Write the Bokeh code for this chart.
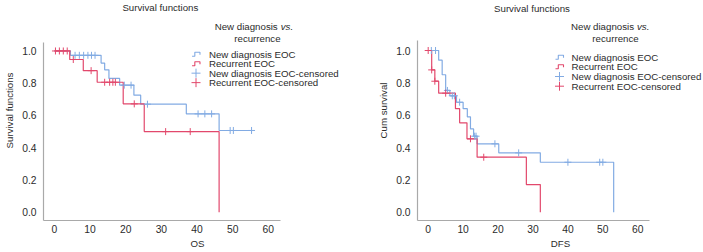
import math
from bokeh.plotting import figure
from bokeh.models import Range1d, FixedTicker, Label, LinearAxis
from bokeh.layouts import row
from bokeh.embed import file_html
from bokeh.resources import INLINE

# ---------------- data ----------------
x_ticks = [0, 10, 20, 30, 40, 50, 60]
y_ticks = [0.0, 0.2, 0.4, 0.6, 0.8, 1.0]
y_tick_labels = ["0.0", "0.2", "0.4", "0.6", "0.8", "1.0"]

series_names = ["New diagnosis EOC", "Recurrent EOC",
                "New diagnosis EOC-censored", "Recurrent EOC-censored"]

# OS panel
os_new_time = [0, 4.5, 13.1, 14.1, 15.3, 18.3, 22.3, 24.2, 37.0, 46.2, 55.3]
os_new_surv = [1.0, 0.973, 0.925, 0.883, 0.830, 0.788, 0.726, 0.670, 0.610, 0.507, 0.507]
os_new_cens_time = [5.8, 7.0, 8.2, 9.4, 10.4, 11.4, 19.6, 21.5, 26.1, 40.3, 42.2, 44.1, 49.3, 50.2, 55.3]
os_new_cens_surv = [0.973, 0.973, 0.973, 0.973, 0.973, 0.973, 0.788, 0.788, 0.670,
                    0.610, 0.610, 0.610, 0.507, 0.507, 0.507]

os_rec_time = [0, 4.3, 8.1, 12.0, 19.3, 25.2, 46.2]
os_rec_surv = [1.0, 0.947, 0.878, 0.806, 0.672, 0.500, 0.0]
os_rec_cens_time = [0.3, 1.4, 2.5, 3.6, 5.3, 10.3, 14.1, 15.5, 16.4, 17.1, 22.4, 31.2, 38.1]
os_rec_cens_surv = [1.0, 1.0, 1.0, 1.0, 0.947, 0.878, 0.806, 0.806, 0.806, 0.806,
                    0.672, 0.500, 0.500]

# DFS panel
dfs_new_time = [0, 3.0, 4.0, 5.0, 6.2, 8.1, 10.0, 11.2, 12.1, 13.0, 14.0, 20.2, 32.1, 53.1]
dfs_new_surv = [1.0, 0.94, 0.85, 0.753, 0.72, 0.68, 0.64, 0.59, 0.515, 0.47, 0.423, 0.367, 0.309, 0.0]
dfs_new_cens_time = [0.9, 2.1, 5.5, 6.9, 7.5, 9.0, 13.3, 13.7, 19.1, 25.9, 40.0, 49.1, 50.0]
dfs_new_cens_surv = [1.0, 1.0, 0.753, 0.72, 0.72, 0.68, 0.47, 0.47, 0.423, 0.367, 0.309, 0.309, 0.309]

dfs_rec_time = [0, 1.0, 1.9, 3.0, 7.8, 9.0, 11.1, 14.0, 28.1, 32.1]
dfs_rec_surv = [1.0, 0.88, 0.81, 0.736, 0.64, 0.553, 0.454, 0.34, 0.171, 0.0]
dfs_rec_cens_time = [0.0, 1.0, 1.9, 5.0, 12.1, 15.9]
dfs_rec_cens_surv = [1.0, 0.88, 0.81, 0.736, 0.454, 0.34]

# ---------------- style ----------------
BLUE = "#82ABE3"
RED = "#E2486C"
AXIS = "#A9A9A9"
TXT = "#2b2b2b"
FONT = "Liberation Sans"
FS = "9.7px"
H = 252
TOP = 0


def make_panel(fl, W, bl, bb, x0, kx, y0, ky, xb_px, yb_px, data, texts):
    frame_left = fl + bl
    frame_right = fl + W
    frame_bottom = TOP + H - bb

    def tx(px):
        return (px - x0) / kx

    def sy(py):
        return (y0 - py) / ky

    p = figure(width=W, height=H, output_backend="svg", toolbar_location=None,
               x_range=Range1d(tx(frame_left), tx(frame_right)),
               y_range=Range1d(sy(frame_bottom), sy(TOP)),
               min_border_left=bl, min_border_right=0, min_border_top=0,
               min_border_bottom=bb)
    p.outline_line_color = None
    p.grid.visible = False
    p.background_fill_color = "white"
    p.border_fill_color = "white"

    t = texts
    xa, ya = p.xaxis[0], p.yaxis[0]
    xa.ticker = FixedTicker(ticks=x_ticks)
    ya.ticker = FixedTicker(ticks=y_ticks)
    ya.major_label_overrides = {tk: l for tk, l in zip(y_ticks, y_tick_labels)}
    xa.bounds = (tx(xb_px[0]), tx(xb_px[1]))
    ya.bounds = (sy(yb_px[0]), sy(yb_px[1]))
    for ax, so in ((xa, 4), (ya, 7)):
        ax.axis_line_color = AXIS
        ax.axis_line_width = 1.2
        ax.major_tick_line_color = None
        ax.minor_tick_line_color = None
        ax.major_tick_out = 0
        ax.major_tick_in = 0
        ax.major_label_standoff = so
        ax.major_label_text_font = FONT
        ax.major_label_text_font_size = "10.3px"
        ax.major_label_text_color = TXT
    xa.axis_label = t["xlab_text"]
    xa.axis_label_standoff = 2
    xa.axis_label_text_font = FONT
    xa.axis_label_text_font_size = FS
    xa.axis_label_text_font_style = "normal"
    xa.axis_label_text_color = TXT

    # y-axis title: an extra, label-only axis placed left of the tick labels
    ylab_axis = LinearAxis(axis_label=t["ylab_text"], ticker=FixedTicker(ticks=[]),
                           axis_line_color=None, major_tick_line_color=None,
                           minor_tick_line_color=None, major_tick_out=0, major_tick_in=0,
                           major_label_text_font_size="0px", major_label_standoff=0,
                           axis_label_standoff=t["ylab_standoff"],
                           axis_label_text_font=FONT, axis_label_text_font_size=FS,
                           axis_label_text_font_style="normal",
                           axis_label_text_color=TXT,
                           bounds=(sy(t["ylab_span"][0]), sy(t["ylab_span"][1])))
    p.add_layout(ylab_axis, "left")

    (nt, ns, nct, ncs), (rt, rs, rct, rcs) = data
    p.step(nt, ns, mode="after", line_color=BLUE, line_width=1.2)
    p.step(rt, rs, mode="after", line_color=RED, line_width=1.2)
    p.scatter(nct, ncs, marker="cross", size=7, line_color=BLUE, line_width=1)
    p.scatter(rct, rcs, marker="cross", size=7, line_color=RED, line_width=1)

    def lab(px, py, text, align="center", baseline="middle", style="normal", size=FS):
        p.add_layout(Label(x=tx(px), y=sy(py), text=text, text_font=FONT,
                           text_font_size=size, text_color=TXT,
                           text_align=align, text_baseline=baseline,
                           text_font_style=style))

    lab(t["title"][0], t["title"][1], "Survival functions")
    lab(t["lt1"][0], t["lt_y1"], "New diagnosis", align="right")
    lab(t["lt1"][1], t["lt_y1"], "vs.", align="left", style="italic")
    lab(t["lt2"], t["lt_y2"], "recurrence")

    ix0, ix1 = t["icon_x"]
    colors = [BLUE, RED, BLUE, RED]
    for i, (name, ry) in enumerate(zip(series_names, t["rows"])):
        lab(t["text_x"], ry, name, align="left", size=t["lsize"])
        c = colors[i]
        if i < 2:
            xm = ix0 + 0.35 * (ix1 - ix0)
            xs = [tx(ix0), tx(xm), tx(xm), tx(ix1), tx(ix1)]
            ys = [sy(ry + 2), sy(ry + 2), sy(ry - 2), sy(ry - 2), sy(ry + 0.5)]
            p.line(xs, ys, line_color=c, line_width=1.1)
        else:
            p.scatter([tx((ix0 + ix1) / 2)], [sy(ry)], marker="cross", size=9,
                      line_color=c, line_width=1)
    return p


left = make_panel(
    fl=0, W=351, bl=40, bb=31, x0=51.0, kx=3.6, y0=212.7, ky=162.0,
    xb_px=(40, 279.3), yb_px=(221, 41.7),
    data=((os_new_time, os_new_surv, os_new_cens_time, os_new_cens_surv),
          (os_rec_time, os_rec_surv, os_rec_cens_time, os_rec_cens_surv)),
    texts=dict(title=(158, 7.5), lt1=(276.5, 279.5), lt_y1=25.7, lt2=256, lt_y2=37.7,
               ylab_text="Survival functions", ylab_span=(159, 83), ylab_standoff=5,
               xlab_text="OS",
               icon_x=(190, 198), text_x=207, rows=[54, 63.5, 73, 82.5], lsize=FS))

right = make_panel(
    fl=351, W=352, bl=66, bb=32, x0=427.7, kx=3.493, y0=211.7, ky=161.7,
    xb_px=(417, 649), yb_px=(220, 40),
    data=((dfs_new_time, dfs_new_surv, dfs_new_cens_time, dfs_new_cens_surv),
          (dfs_rec_time, dfs_rec_surv, dfs_rec_cens_time, dfs_rec_cens_surv)),
    texts=dict(title=(531.5, 7.5), lt1=(633.5, 636.5), lt_y1=25.7, lt2=615, lt_y2=37.7,
               ylab_text="Cum survival", ylab_span=(159, 102), ylab_standoff=5,
               xlab_text="DFS",
               icon_x=(555, 563), text_x=571, rows=[56.7, 66.3, 76, 85.7], lsize=FS))

layout = row(left, right)
open("out.html", "w").write(file_html(layout, INLINE))
